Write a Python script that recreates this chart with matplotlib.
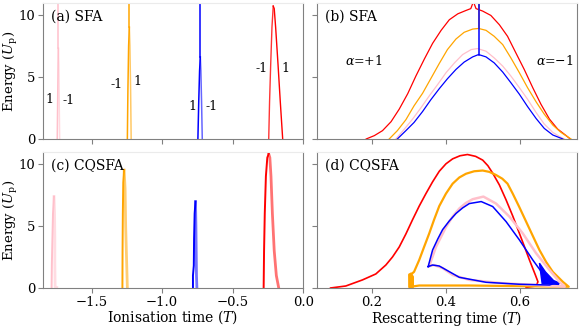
import matplotlib
matplotlib.use("Agg")
import matplotlib.pyplot as plt

plt.rcParams['font.family'] = 'DejaVu Serif'
plt.rcParams['mathtext.fontset'] = 'dejavuserif'
plt.rcParams['font.size'] = 10

# (a) SFA: ionisation time vs energy, two branches per orbit
sfa_ion = {
    'pink': ([-1.743, -1.740, -1.737, -1.735], [0, 3, 6, 7.3],
             [-1.726, -1.729, -1.732, -1.735], [0, 3, 6, 7.3],
             [7.3, 11.5]),
    'orange': ([-1.246, -1.242, -1.237, -1.232], [0, 4, 7.5, 9.0],
               [-1.219, -1.223, -1.228, -1.232], [0, 4, 7.5, 9.0],
               [9.0, 11.5]),
    'blue': ([-0.746, -0.740, -0.734, -0.729], [0, 3, 5.5, 6.6],
             [-0.715, -0.720, -0.725, -0.729], [0, 3, 5.5, 6.6],
             [6.6, 11.5]),
}
red_ion_left_x = [-0.244, -0.238, -0.230, -0.221, -0.212]
red_ion_left_y = [0, 3, 6, 9, 10.7]
red_ion_right_x = [-0.212, -0.205, -0.195, -0.178, -0.162, -0.145]
red_ion_right_y = [10.7, 10.5, 9, 6, 3, 0]

# branch labels in (a)
lab_txt = ['1', '-1', '-1', '1', '1', '-1', '-1', '1']
lab_x = [-1.795, -1.66, -1.319, -1.177, -0.788, -0.651, -0.296, -0.126]
lab_y = [3.2, 3.1, 4.4, 4.6, 2.6, 2.6, 5.7, 5.7]

# (b) SFA: rescattering time vs energy
red_b_x = [0.185, 0.207, 0.229, 0.252, 0.274, 0.297, 0.319, 0.342, 0.364, 0.387,
           0.409, 0.432, 0.454, 0.467, 0.472, 0.474, 0.476, 0.481, 0.499, 0.521,
           0.544, 0.566, 0.589, 0.611, 0.634, 0.656, 0.679, 0.701, 0.724, 0.735]
red_b_y = [0.0, 0.27, 0.67, 1.39, 2.4, 3.65, 5.07, 6.45, 7.7, 8.75,
           9.6, 10.08, 10.35, 10.5, 10.9, 11.5, 10.9, 10.5, 10.3, 9.95,
           9.2, 8.27, 6.9, 5.6, 4.13, 2.8, 1.6, 0.8, 0.27, 0.0]
orange_b_x = [0.247, 0.269, 0.292, 0.314, 0.337, 0.359, 0.382, 0.404, 0.427, 0.449,
              0.472, 0.488, 0.508, 0.530, 0.553, 0.575, 0.598, 0.620, 0.643, 0.665,
              0.688, 0.710, 0.737]
orange_b_y = [0.0, 0.67, 1.55, 2.67, 3.68, 4.85, 6.08, 7.2, 8.05, 8.59,
              8.85, 8.9, 8.75, 8.27, 7.6, 6.53, 5.33, 4.13, 2.99, 2.0,
              1.12, 0.53, 0.0]
pink_b_x = [0.265, 0.288, 0.310, 0.333, 0.355, 0.378, 0.400, 0.423, 0.445, 0.468,
            0.485, 0.508, 0.530, 0.553, 0.575, 0.598, 0.620, 0.643, 0.665, 0.688,
            0.710, 0.719]
pink_b_y = [0.0, 0.8, 1.6, 2.53, 3.47, 4.4, 5.33, 6.13, 6.8, 7.2,
            7.28, 7.07, 6.53, 5.87, 5.07, 4.13, 3.2, 2.13, 1.2, 0.53,
            0.13, 0.0]
blue_b_x = [0.269, 0.292, 0.314, 0.337, 0.359, 0.382, 0.404, 0.427, 0.449, 0.472,
            0.488, 0.508, 0.530, 0.553, 0.575, 0.598, 0.620, 0.643, 0.665, 0.688,
            0.715]
blue_b_y = [0.0, 0.67, 1.33, 2.21, 3.15, 4.05, 4.85, 5.6, 6.19, 6.61,
            6.8, 6.61, 6.13, 5.39, 4.53, 3.6, 2.61, 1.65, 0.85, 0.32,
            0.0]
cut_x = {'orange': 0.489, 'blue': 0.488}
cut_y = {'orange': 8.9, 'blue': 6.8}

# (c) CQSFA: ionisation time vs energy
cq_ion = {
    'pink': ([-1.783, -1.781, -1.777, -1.773, -1.766], [0, 2, 4, 6, 7.36],
             [-1.766, -1.762, -1.760, -1.760, -1.758, -1.747], [7.36, 6, 4, 2, 0.1, 0.05]),
    'orange': ([-1.281, -1.280, -1.278, -1.275, -1.269], [0, 3, 6, 8.5, 9.5],
               [-1.269, -1.262, -1.258, -1.252, -1.246], [9.5, 8, 5, 2.5, 0]),
    'blue': ([-0.781, -0.781, -0.775, -0.773, -0.769, -0.763], [0, 1.0, 1.8, 4, 6, 6.96],
             [-0.763, -0.760, -0.758, -0.756, -0.753], [6.96, 5, 3, 1, 0]),
    'red': ([-0.280, -0.277, -0.272, -0.264, -0.254, -0.244], [0, 3, 6, 9, 10.5, 10.8],
            [-0.244, -0.236, -0.228, -0.218, -0.205, -0.190, -0.173], [10.8, 10.5, 9, 6, 3, 1, 0]),
}

# (d) CQSFA: rescattering time vs energy
red_d_x = [0.089, 0.130, 0.175, 0.211, 0.238, 0.256, 0.274, 0.292, 0.310, 0.328,
           0.346, 0.364, 0.382, 0.400, 0.418, 0.438, 0.458, 0.480, 0.499, 0.513,
           0.526, 0.544, 0.562, 0.580, 0.598, 0.612, 0.625, 0.641, 0.648, 0.643,
           0.616]
red_d_y = [0.0, 0.16, 0.65, 1.13, 1.85, 2.5, 3.3, 4.35, 5.5, 6.6,
           7.6, 8.55, 9.4, 10.0, 10.4, 10.65, 10.75, 10.6, 10.3, 9.85,
           9.25, 8.3, 7.1, 5.8, 4.4, 3.3, 2.26, 1.05, 0.5, 0.16,
           0.05]
orange_d_x = [0.305, 0.302, 0.314, 0.328, 0.341, 0.355, 0.368, 0.382, 0.400, 0.418,
              0.436, 0.454, 0.476, 0.499, 0.517, 0.535, 0.552, 0.566, 0.580, 0.598,
              0.616, 0.634, 0.652, 0.670, 0.688, 0.715, 0.731, 0.598, 0.463, 0.328,
              0.305]
orange_d_y = [0.1, 1.0, 1.3, 2.26, 3.3, 4.4, 5.5, 6.6, 7.6, 8.4,
              8.9, 9.2, 9.4, 9.46, 9.35, 9.1, 8.8, 8.4, 7.6, 6.5,
              5.35, 4.2, 3.06, 2.1, 1.3, 0.5, 0.1, 0.15, 0.2, 0.2,
              0.1]
pink_d_x = [0.355, 0.373, 0.400, 0.418, 0.436, 0.454, 0.472, 0.501, 0.535, 0.571,
            0.607, 0.643, 0.679, 0.706, 0.720, 0.643, 0.553, 0.463, 0.418, 0.391,
            0.368, 0.355]
pink_d_y = [1.77, 3.3, 4.9, 5.75, 6.4, 6.85, 7.15, 7.36, 6.8, 5.75,
            4.4, 2.8, 1.45, 0.5, 0.1, 0.24, 0.38, 0.65, 1.05, 1.6,
            1.85, 1.77]
blue_d_x = [0.352, 0.364, 0.378, 0.391, 0.409, 0.427, 0.445, 0.463, 0.495, 0.526,
            0.562, 0.598, 0.634, 0.670, 0.693, 0.679, 0.598, 0.508, 0.436, 0.404,
            0.382, 0.364, 0.352]
blue_d_y = [1.72, 3.06, 3.95, 4.7, 5.4, 6.0, 6.45, 6.8, 6.96, 6.56,
            5.35, 3.87, 2.26, 0.78, 0.38, 0.24, 0.3, 0.46, 0.86, 1.4,
            1.77, 1.85, 1.72]
blob_x = [0.652, 0.668, 0.690, 0.706, 0.700, 0.660]
blob_y = [2.0, 1.3, 0.6, 0.4, 0.15, 0.2]
orange_foot_x = [0.300, 0.306, 0.312, 0.312, 0.300]
orange_foot_y = [1.1, 1.2, 0.9, 0.05, 0.05]


def style(ax):
    for s in ['left', 'right', 'bottom']:
        ax.spines[s].set_color('0.5')
    ax.spines['top'].set_color('0.92')
    ax.tick_params(colors='0.5', labelcolor='black', labelsize=9.5, pad=2)
    ax.set_ylim(0, 10.95)
    ax.set_yticks([0, 5, 10])


fig, axs = plt.subplots(2, 2, figsize=(5.81, 3.27), dpi=100)
fig.subplots_adjust(left=0.0735, right=0.9936, top=0.9908, bottom=0.1193,
                    wspace=0.0526, hspace=0.096)
ax_a, ax_b = axs[0]
ax_c, ax_d = axs[1]

# (a)
for col, (lx, ly, rx, ry, top) in sfa_ion.items():
    ax_a.plot(lx, ly, color=col, lw=1.1)
    ax_a.plot(rx, ry, color=col, lw=1.1, alpha=0.6)
    ax_a.plot([lx[-1], lx[-1]], top, color=col, lw=1.1)
ax_a.plot(red_ion_left_x, red_ion_left_y, color='red', lw=1.0, alpha=0.8)
ax_a.plot(red_ion_right_x, red_ion_right_y, color='red', lw=1.0)
for t, x, y in zip(lab_txt, lab_x, lab_y):
    ax_a.text(x, y, t, fontsize=9, ha='center', va='center')
ax_a.text(0.03, 0.9, '(a) SFA', transform=ax_a.transAxes, fontsize=10, va='center')

# (b)
ax_b.plot(red_b_x, red_b_y, color='red', lw=0.9)
ax_b.plot(orange_b_x, orange_b_y, color='orange', lw=0.9)
ax_b.plot(pink_b_x, pink_b_y, color='pink', lw=0.9)
ax_b.plot(blue_b_x, blue_b_y, color='blue', lw=0.9)
for col in ['orange', 'blue']:
    ax_b.plot([cut_x[col], cut_x[col]], [cut_y[col], 11.5], color=col, lw=1.1)
ax_b.text(0.179, 6.24, r'$\alpha$=+1', fontsize=9, ha='center', va='center')
ax_b.text(0.693, 6.24, r'$\alpha$=$-$1', fontsize=9, ha='center', va='center')
ax_b.text(0.03, 0.9, '(b) SFA', transform=ax_b.transAxes, fontsize=10, va='center')

# (c)
for col, (lx, ly, rx, ry) in cq_ion.items():
    ax_c.plot(lx, ly, color=col, lw=1.4)
    ax_c.plot(rx, ry, color=col, lw=2.0, alpha=0.55)
ax_c.text(0.03, 0.9, '(c) CQSFA', transform=ax_c.transAxes, fontsize=10, va='center')

# (d)
ax_d.plot(red_d_x, red_d_y, color='red', lw=1.2)
ax_d.plot(orange_d_x, orange_d_y, color='orange', lw=1.6)
ax_d.fill(orange_foot_x, orange_foot_y, color='orange')
ax_d.plot(pink_d_x, pink_d_y, color='pink', lw=1.8)
ax_d.plot(blue_d_x, blue_d_y, color='blue', lw=1.1)
ax_d.fill(blob_x, blob_y, color='blue')
ax_d.text(0.03, 0.9, '(d) CQSFA', transform=ax_d.transAxes, fontsize=10, va='center')

for ax in [ax_a, ax_c]:
    ax.set_xlim(-1.846, 0.0)
    ax.set_xticks([-1.5, -1.0, -0.5, 0.0])
    ax.set_ylabel(r'Energy ($U_\mathrm{p}$)', fontsize=9.5)
    ax.yaxis.set_label_coords(-0.088, 0.5)
for ax in [ax_b, ax_d]:
    ax.set_xlim(0.052, 0.754)
    ax.set_xticks([0.2, 0.4, 0.6])
    ax.set_yticklabels([])
for ax in [ax_a, ax_b]:
    ax.set_xticklabels([])
for ax in axs.flat:
    style(ax)

ax_c.set_xlabel(r'Ionisation time ($T$)', fontsize=10, labelpad=0)
ax_d.set_xlabel(r'Rescattering time ($T$)', fontsize=10, labelpad=0)

fig.savefig('out.png', dpi=100)
